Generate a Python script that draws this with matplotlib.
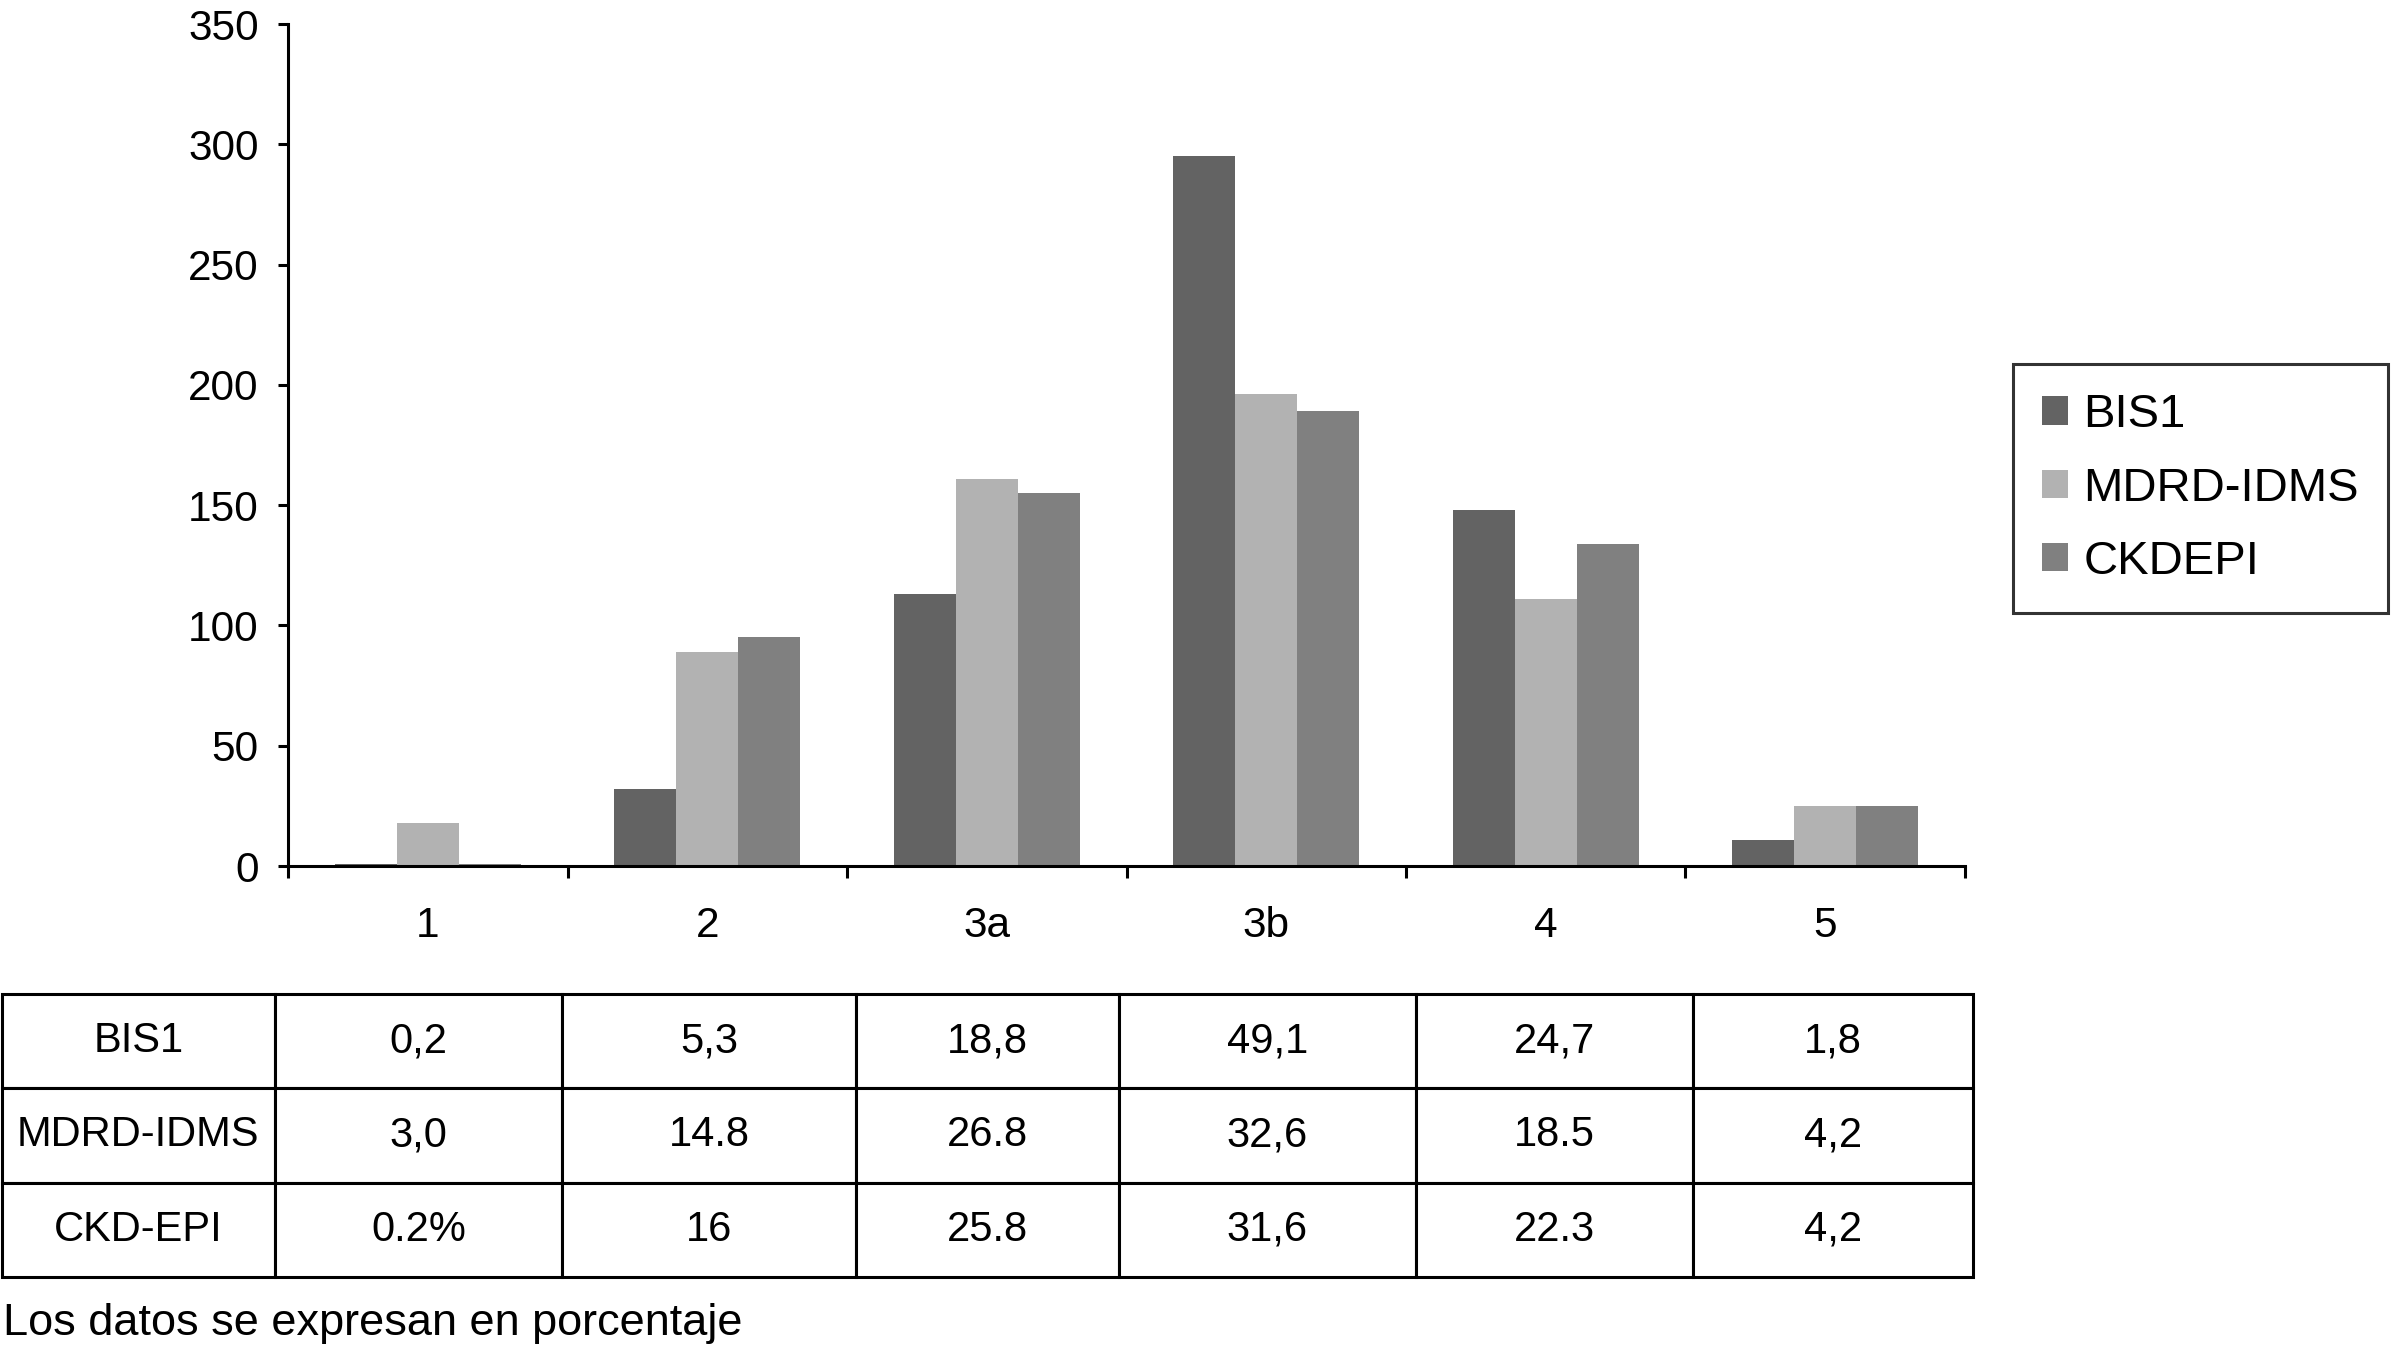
import matplotlib
matplotlib.use('Agg')
import matplotlib.pyplot as plt
import numpy as np

plt.rcParams['font.family'] = ['Liberation Sans', 'DejaVu Sans']

# datos
estadios = ['1', '2', '3a', '3b', '4', '5']
series = ['BIS1', 'MDRD-IDMS', 'CKDEPI']
bis1 = [1, 32, 113, 295, 148, 11]
mdrd = [18, 89, 161, 196, 111, 25]
ckdepi = [1, 95, 155, 189, 134, 25]
colores = ['#636363', '#b2b2b2', '#808080']

filas_tabla = ['BIS1', 'MDRD-IDMS', 'CKD-EPI']
pct_bis1 = ['0,2', '5,3', '18,8', '49,1', '24,7', '1,8']
pct_mdrd = ['3,0', '14.8', '26.8', '32,6', '18.5', '4,2']
pct_ckdepi = ['0.2%', '16', '25.8', '31,6', '22.3', '4,2']

W, H = 2396, 1346
fig = plt.figure(figsize=(W / 100, H / 100), dpi=100)

# ejes del grafico de barras
ax = fig.add_axes([288 / W, 1 - 866 / H, (1965 - 288) / W, (866 - 24) / H])
x = np.arange(len(estadios))
w = 1 / 4.5
for i, (vals, c, lab) in enumerate(zip([bis1, mdrd, ckdepi], colores, series)):
    ax.bar(x + (i - 1) * w, vals, width=w, color=c, label=lab, zorder=2)

ax.set_xlim(-0.5, len(estadios) - 0.5)
ax.set_ylim(0, 350)
ax.set_yticks(np.arange(0, 351, 50))
ax.set_xticks(np.arange(-0.5, len(estadios), 1.0))
ax.set_xticklabels([])
ax.set_xticks(x, minor=True)
ax.set_xticklabels(estadios, minor=True)
for s in ['top', 'right']:
    ax.spines[s].set_visible(False)
for s in ['left', 'bottom']:
    ax.spines[s].set_linewidth(2.2)
ax.tick_params(axis='y', direction='out', length=7, width=2.2, pad=14, labelsize=30.5)
ax.tick_params(axis='x', which='major', direction='out', length=8.6, width=2.2)
ax.tick_params(axis='x', which='minor', length=0, pad=29, labelsize=30.5)

# leyenda
handles, labels = ax.get_legend_handles_labels()
leg = fig.legend(handles, labels, loc='upper left',
                 bbox_to_anchor=(2013 / W, 1 - 364 / H), borderaxespad=0,
                 fontsize=34, frameon=True, fancybox=False, edgecolor='black',
                 handlelength=0.55, handleheight=0.55, handletextpad=0.32,
                 labelspacing=0.62, borderpad=0.62)
leg.get_frame().set_linewidth(2.2)

# tabla
tab_ax = fig.add_axes([2 / W, 1 - 1277 / H, (1973 - 2) / W, (1277 - 994) / H])
tab_ax.axis('off')
celdas = [[f] + v for f, v in zip(filas_tabla, [pct_bis1, pct_mdrd, pct_ckdepi])]
bordes = [0, 273, 561, 855, 1118, 1415, 1693, 1973]
anchos = [(b - a) / (bordes[-1] - bordes[0]) for a, b in zip(bordes[:-1], bordes[1:])]
tabla = tab_ax.table(cellText=celdas, colWidths=anchos, cellLoc='center',
                     bbox=[0, 0, 1, 1])
tabla.auto_set_font_size(False)
tabla.set_fontsize(30)
for cell in tabla.get_celld().values():
    cell.set_linewidth(2.2)
    cell.set_edgecolor('black')

fig.text(3 / W, 1 - 1335 / H, 'Los datos se expresan en porcentaje',
         fontsize=32.5, ha='left', va='baseline')

fig.savefig('out.png', dpi=100)
